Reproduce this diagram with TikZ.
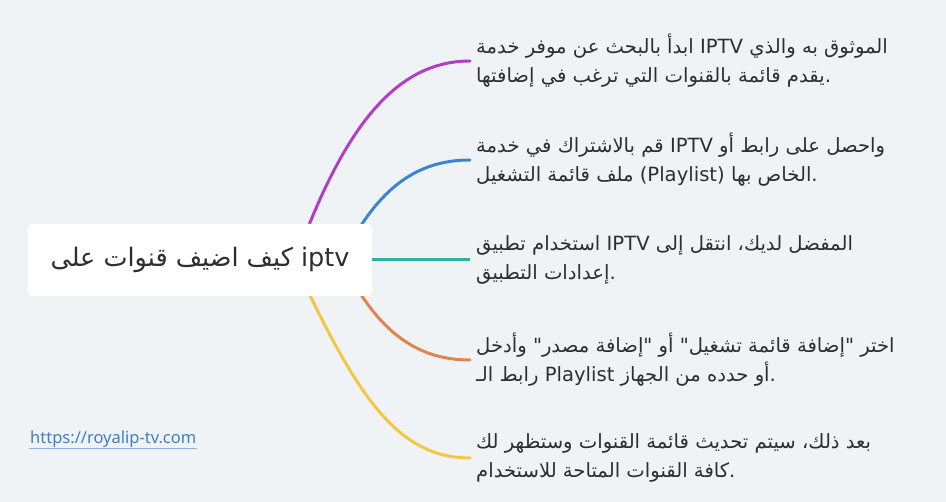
\documentclass[tikz,border=0pt]{standalone}
\usepackage{fontspec}
\TeXXeTstate=1
\newfontfamily\arabicfont[Script=Arabic]{DejaVu Sans}
\newfontfamily\urlfont{Noto Sans}
\definecolor{bgcol}{HTML}{F0F3F6}
\definecolor{cpurple}{HTML}{B23EC6}
\definecolor{cblue}{HTML}{3A85CF}
\definecolor{cteal}{HTML}{2AB3A0}
\definecolor{corange}{HTML}{E0854F}
\definecolor{cyellow}{HTML}{F2C744}
\definecolor{textgray}{HTML}{2E2E2E}
\definecolor{urlblue}{HTML}{3D7FC1}
\begin{document}
\begin{tikzpicture}[x=1pt,y=-1pt,
  branch/.style={line width=3pt, line cap=round},
  itemtext/.style={anchor=west, align=left, inner xsep=6pt, inner ysep=0pt, text=textgray,
    font=\arabicfont\fontsize{19.6}{29}\selectfont},
  rootbox/.style={fill=white, rounded corners=4pt, minimum width=344pt, minimum height=72pt,
    inner sep=0pt, text=textgray, font=\arabicfont\fontsize{25.5}{28}\selectfont}]
\useasboundingbox (0,0) rectangle (946,502);
\fill[bgcol] (0,0) rectangle (946,502);

\coordinate (s1) at (305,235);
\coordinate (s2) at (355,235);
\coordinate (s4) at (355,285);
\coordinate (s5) at (305,285);

\node[itemtext] (t1) at (470,61) {\beginR الموثوق به والذي IPTV ابدأ بالبحث عن موفر خدمة\endR\\\beginR .يقدم قائمة بالقنوات التي ترغب في إضافتها\endR};
\node[itemtext] (t2) at (470,160) {\beginR واحصل على رابط أو IPTV قم بالاشتراك في خدمة\endR\\\beginR .الخاص بها (Playlist) ملف قائمة التشغيل\endR};
\node[itemtext] (t3) at (470,260) {\beginR المفضل لديك، انتقل إلى IPTV استخدام تطبيق\endR\\\beginR .إعدادات التطبيق\endR};
\node[itemtext] (t4) at (470,360) {\beginR اختر "إضافة قائمة تشغيل" أو "إضافة مصدر" وأدخل\endR\\\beginR .أو حدده من الجهاز Playlist رابط الـ\endR};
\node[itemtext] (t5) at (470,458) {\beginR بعد ذلك، سيتم تحديث قائمة القنوات وستظهر لك\endR\\\beginR .كافة القنوات المتاحة للاستخدام\endR};

\draw[branch, cpurple] (s1) .. controls +(45,-115) and +(-70,0) .. (t1.west);
\draw[branch, cblue] (s2) .. controls +(30,-50) and +(-50,0) .. (t2.west);
\draw[branch, corange] (s4) .. controls +(30,50) and +(-50,0) .. (t4.west);
\draw[branch, cyellow] (s5) .. controls +(55,115) and +(-70,0) .. (t5.west);

\node[rootbox] (root) at (200,260) {\beginR iptv كيف اضيف قنوات على\endR};
\draw[branch, cteal, line cap=butt] (root.east) -- (t3.west);

\node[anchor=west, inner sep=1pt, text=urlblue, font=\urlfont\fontsize{16.5}{19}\selectfont] (url) at (29,439) {https://royalip-tv.com};
\draw[urlblue!60, line width=1pt] (url.south west) -- (url.south east);
\end{tikzpicture}
\end{document}
